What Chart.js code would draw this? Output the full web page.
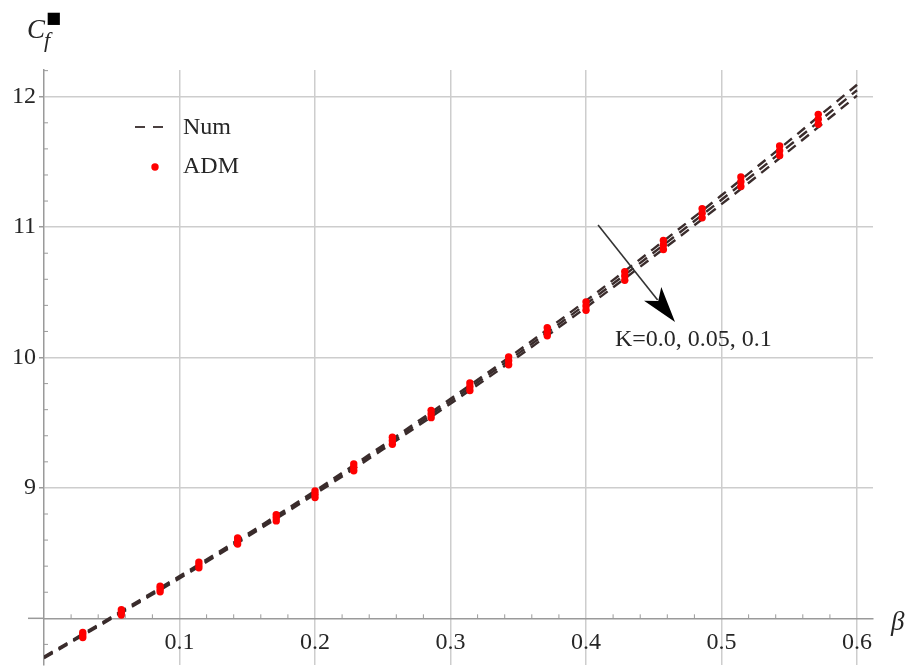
<!DOCTYPE html>
<html><head><meta charset="utf-8">
<script src="https://cdn.jsdelivr.net/npm/chart.js@4.4.1/dist/chart.umd.min.js"></script>
<style>html,body{margin:0;padding:0;background:#fff;}#wrap{width:909px;height:669px;position:relative;}</style>
</head><body><div id="wrap"><canvas id="c" width="909" height="669"></canvas></div>
<script>
// ---- data ----
const betaNum = [0, 0.05, 0.1, 0.15, 0.2, 0.25, 0.3, 0.35, 0.4, 0.45, 0.5, 0.55, 0.6];
const numK0   = [7.706, 8.012, 8.324, 8.646, 8.978, 9.326, 9.684, 10.052, 10.436, 10.835, 11.244, 11.663, 12.092];
const numK005 = [7.700, 8.005, 8.315, 8.635, 8.965, 9.310, 9.665, 10.030, 10.410, 10.805, 11.210, 11.625, 12.050];
const numK01  = [7.694, 7.998, 8.306, 8.624, 8.952, 9.294, 9.646, 10.008, 10.384, 10.775, 11.176, 11.587, 12.008];

const betaADM = [0.0286, 0.0571, 0.0857, 0.1143, 0.1429, 0.1714, 0.2, 0.2286, 0.2571, 0.2857,
                 0.3143, 0.3429, 0.3714, 0.4, 0.4286, 0.4571, 0.4857, 0.5143, 0.5429, 0.5714];
const admK0   = [7.892, 8.066, 8.246, 8.431, 8.616, 8.795, 8.976, 9.184, 9.389, 9.595,
                 9.805, 10.005, 10.229, 10.427, 10.658, 10.897, 11.141, 11.384, 11.623, 11.865];
const admK005 = [7.872, 8.046, 8.225, 8.409, 8.593, 8.771, 8.951, 9.158, 9.362, 9.567,
                 9.776, 9.975, 10.198, 10.395, 10.625, 10.863, 11.106, 11.348, 11.586, 11.827];
const admK01  = [7.852, 8.026, 8.204, 8.387, 8.570, 8.747, 8.926, 9.132, 9.335, 9.539,
                 9.747, 9.945, 10.167, 10.363, 10.592, 10.829, 11.071, 11.312, 11.549, 11.789];

const xGridValues = [0, 0.1, 0.2, 0.3, 0.4, 0.5, 0.6];
const xTickLabels = [null, '0.1', '0.2', '0.3', '0.4', '0.5', '0.6'];
const yGridValues = [8, 9, 10, 11, 12];
const yTickLabels = [null, '9', '10', '11', '12'];
const xMinor = [0.02,0.04,0.06,0.08,0.12,0.14,0.16,0.18,0.22,0.24,0.26,0.28,0.32,0.34,0.36,0.38,
                0.42,0.44,0.46,0.48,0.52,0.54,0.56,0.58];
const yMinor = [7.8,8.2,8.4,8.6,8.8,9.2,9.4,9.6,9.8,10.2,10.4,10.6,10.8,11.2,11.4,11.6,11.8,12.2];
const legendLabels = ['Num', 'ADM'];
const annotationText = 'K=0.0, 0.05, 0.1';

const pts = (xs, ys) => xs.map((v, i) => ({x: v, y: ys[i]}));
const SERIF = '"Liberation Serif", "Times New Roman", serif';
const LINE_COLOR = '#3a2c2c';

function numSet(ys){
  return {type:'line', data: pts(betaNum, ys), showLine:true, borderColor: LINE_COLOR, borderWidth: 2.4,
    borderDash:[10,7], pointRadius:0, fill:false, tension:0.4, cubicInterpolationMode:'monotone', order:2};
}
function admSet(ys){
  return {type:'scatter', data: pts(betaADM, ys), showLine:false, backgroundColor:'#ff0000',
    borderColor:'#ff0000', borderWidth:0, pointRadius:3.7, order:1};
}
function zeroPad(s){ s.paddingTop = 0; s.paddingBottom = 0; s.paddingLeft = 0; s.paddingRight = 0; }

const decor = {
  id:'decor',
  afterDraw(chart){
    const {ctx, scales:{x, y}} = chart;
    ctx.save();
    const y8 = y.getPixelForValue(8);
    const x0 = x.getPixelForValue(0);
    ctx.strokeStyle = '#9a9a9a'; ctx.lineWidth = 1.5;
    ctx.beginPath(); ctx.moveTo(x0 - 16, y8); ctx.lineTo(x0, y8); ctx.stroke();
    ctx.lineWidth = 1;
    xMinor.forEach(v => { const p = x.getPixelForValue(v); ctx.beginPath(); ctx.moveTo(p, y8); ctx.lineTo(p, y8 - 4); ctx.stroke(); });
    yMinor.forEach(v => { const p = y.getPixelForValue(v); ctx.beginPath(); ctx.moveTo(x0, p); ctx.lineTo(x0 + 4, p); ctx.stroke(); });

    // arrow
    const ax1 = x.getPixelForValue(0.4089), ay1 = y.getPixelForValue(11.016);
    const ax2 = x.getPixelForValue(0.4657), ay2 = y.getPixelForValue(10.272);
    const ang = Math.atan2(ay2 - ay1, ax2 - ax1);
    const L = 36, W = 11;
    const c = Math.cos(ang), s = Math.sin(ang);
    const bx = ax2 - L * c, by = ay2 - L * s;
    ctx.strokeStyle = '#333'; ctx.lineWidth = 1.6;
    ctx.beginPath(); ctx.moveTo(ax1, ay1); ctx.lineTo(bx + 8*c, by + 8*s); ctx.stroke();
    ctx.fillStyle = '#000';
    ctx.beginPath();
    ctx.moveTo(ax2, ay2);
    ctx.lineTo(bx - W * s, by + W * c);
    ctx.lineTo(bx + 9 * c, by + 9 * s);
    ctx.lineTo(bx + W * s, by - W * c);
    ctx.closePath(); ctx.fill();

    ctx.fillStyle = '#262626';
    ctx.font = '24px ' + SERIF;
    ctx.textAlign = 'left'; ctx.textBaseline = 'middle';
    ctx.fillText(annotationText, x.getPixelForValue(0.4214), y.getPixelForValue(10.135));

    // legend
    ctx.strokeStyle = '#4a4040'; ctx.lineWidth = 2.2; ctx.setLineDash([10, 8]);
    ctx.beginPath(); ctx.moveTo(135, 127); ctx.lineTo(167, 127); ctx.stroke();
    ctx.setLineDash([]);
    ctx.fillStyle = '#ff0000';
    ctx.beginPath(); ctx.arc(155, 167, 3.7, 0, Math.PI * 2); ctx.fill();
    ctx.fillStyle = '#262626';
    ctx.fillText(legendLabels[0], 183, 128);
    ctx.fillText(legendLabels[1], 183, 167);

    // axis titles
    ctx.textBaseline = 'alphabetic';
    ctx.font = 'italic 27px ' + SERIF;
    ctx.fillText('C', 27, 38);
    ctx.font = 'italic 22px ' + SERIF;
    ctx.fillText('f', 44, 47);
    ctx.font = '16px "DejaVu Sans"';
    ctx.textAlign = 'center'; ctx.textBaseline = 'middle';
    ctx.fillStyle = '#000';
    ctx.fillText('\u25A0', 53.5, 18.5);
    ctx.textAlign = 'left'; ctx.textBaseline = 'alphabetic';
    ctx.fillStyle = '#262626';
    ctx.font = 'italic 27px ' + SERIF;
    ctx.fillText('\u03B2', 891, 630);
    ctx.restore();
  }
};

new Chart(document.getElementById('c'), {
  type: 'scatter',
  data: { datasets: [
    admSet(admK0), admSet(admK005), admSet(admK01),
    numSet(numK0), numSet(numK005), numSet(numK01)
  ]},
  options: {
    responsive:false, animation:false, devicePixelRatio:1,
    layout:{ padding:{ left:0, right:36, top:70, bottom:0 } },
    plugins:{ legend:{display:false}, tooltip:{enabled:false} },
    scales:{
      x:{ type:'linear', position:{y:8}, min:0, max:0.6118,
        afterFit: s => { s.height = 0; zeroPad(s); },
        afterBuildTicks: s => { s.ticks = xGridValues.map(v => ({value:v})); },
        ticks:{ autoSkip:false, maxRotation:0, padding:10, color:'#262626',
          font:{family:SERIF, size:24},
          callback:(v) => { const i = xGridValues.findIndex(g => Math.abs(g - v) < 1e-9); return i >= 0 ? xTickLabels[i] : null; } },
        grid:{ color:'#cdcdcd', lineWidth:1.5, tickLength:0, drawTicks:false },
        border:{ color:'#9a9a9a', width:1.5 }
      },
      y:{ type:'linear', position:'left', min:7.642, max:12.205,
        afterFit: s => { s.width = 44; zeroPad(s); },
        afterBuildTicks: s => { s.ticks = yGridValues.map(v => ({value:v})); },
        ticks:{ padding:3, color:'#262626', font:{family:SERIF, size:24},
          callback:(v) => { const i = yGridValues.findIndex(g => Math.abs(g - v) < 1e-9); return i >= 0 ? yTickLabels[i] : null; } },
        grid:{ color:'#cdcdcd', lineWidth:1.5, tickLength:5, tickColor:'#9a9a9a' },
        border:{ color:'#9a9a9a', width:1.5 }
      }
    }
  },
  plugins:[decor]
});
</script></body></html>
